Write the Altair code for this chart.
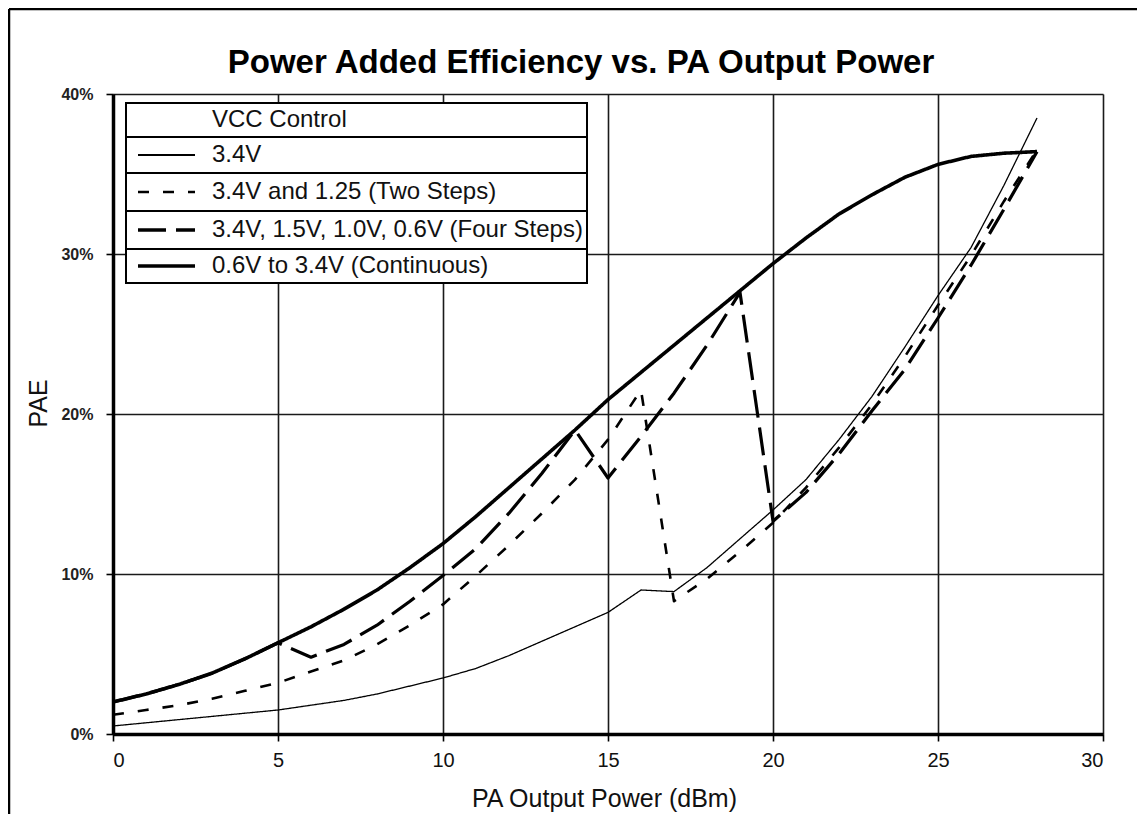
import altair as alt
import pandas as pd

# ---------------- data ----------------
power_dbm = list(range(0, 29))
pae_34v = [0.5, 0.7, 0.9, 1.1, 1.3, 1.5, 1.8, 2.1, 2.5, 3.0, 3.5, 4.1, 4.9, 5.8, 6.7,
           7.6, 9.0, 8.9, 10.4, 12.2, 14.0, 15.9, 18.4, 21.1, 24.2, 27.4, 30.4, 34.3, 38.5]
pae_two_steps = [1.2, 1.5, 1.8, 2.2, 2.7, 3.2, 3.9, 4.6, 5.6, 6.8, 8.1, 9.9, 11.8, 13.8, 15.9,
                 18.4, 21.5, 8.3, 9.7, 11.4, 13.2, 15.4, 17.9, 20.6, 23.6, 26.8, 29.9, 33.3, 36.5]
pae_four_steps = [2.0, 2.5, 3.1, 3.8, 4.7, 5.7, 4.8, 5.6, 6.8, 8.3, 9.9, 11.6, 13.8, 16.3, 19.0,
                  16.0, 18.6, 21.3, 24.3, 27.6, 13.3, 15.1, 17.5, 20.2, 22.8, 26.0, 29.3, 32.8, 36.4]
pae_continuous = [2.0, 2.5, 3.1, 3.8, 4.7, 5.7, 6.7, 7.8, 9.0, 10.4, 11.9, 13.6, 15.4, 17.2, 19.0,
                  20.9, 22.6, 24.3, 26.0, 27.7, 29.4, 31.0, 32.5, 33.7, 34.8, 35.6, 36.1, 36.3, 36.4]
series_names = ["3.4V", "3.4V and 1.25 (Two Steps)",
                "3.4V, 1.5V, 1.0V, 0.6V (Four Steps)", "0.6V to 3.4V (Continuous)"]
legend_title = "VCC Control"
chart_title = "Power Added Efficiency vs. PA Output Power"
x_ticks = [0, 5, 10, 15, 20, 25, 30]
y_ticks = [0, 10, 20, 30, 40]

rows = []
for name, vals in zip(series_names, [pae_34v, pae_two_steps, pae_four_steps, pae_continuous]):
    for i, (xv, yv) in enumerate(zip(power_dbm, vals)):
        rows.append({"series": name, "x": xv, "pae": yv, "order": i})
df = pd.DataFrame(rows)

# ---------------- styling ----------------
W, H = 990, 640
FONT = "Liberation Sans"
styles = {
    series_names[0]: dict(dash=[1, 0], width=1.3, lwidth=1.8),
    series_names[1]: dict(dash=[11, 14], width=2.6, lwidth=2.6),
    series_names[2]: dict(dash=[28, 10], width=3.2, lwidth=3.4),
    series_names[3]: dict(dash=[1, 0], width=3.6, lwidth=3.6),
}

x_axis = alt.Axis(values=x_ticks, title="PA Output Power (dBm)", grid=True,
                  gridColor="#1a1a1a", gridWidth=1.6, domainColor="black", domainWidth=3.5,
                  tickColor="black", tickSize=7, tickWidth=1.6,
                  labelFont=FONT, labelFontSize=20, labelColor="#111", labelPadding=9,
                  titleFont=FONT, titleFontSize=25, titleFontWeight="normal", titleColor="#111",
                  titleBaseline="alphabetic", titleY=72, titleX=491)
y_axis = alt.Axis(values=y_ticks, title="PAE", grid=True, labelExpr="datum.value + '%'",
                  gridColor="#1a1a1a", gridWidth=1.6, domainColor="black", domainWidth=3.5,
                  tickColor="black", tickSize=7, tickWidth=1.6,
                  labelFont=FONT, labelFontSize=16, labelFontWeight="bold", labelColor="#222",
                  labelPadding=13,
                  titleFont=FONT, titleFontSize=25, titleFontWeight="normal", titleColor="#111",
                  titleAngle=270, titleAlign="center", titleBaseline="middle",
                  titleX=-75, titleY=309)

layers = []
for k, name in enumerate(series_names):
    st = styles[name]
    enc = dict(x=alt.X("x:Q", scale=alt.Scale(domain=[0, 30], nice=False)),
               y=alt.Y("pae:Q", scale=alt.Scale(domain=[0, 40], nice=False)),
               order="order:Q")
    if k == 0:
        enc["x"] = alt.X("x:Q", scale=alt.Scale(domain=[0, 30], nice=False), axis=x_axis)
        enc["y"] = alt.Y("pae:Q", scale=alt.Scale(domain=[0, 40], nice=False), axis=y_axis)
    layers.append(
        alt.Chart(df).transform_filter(alt.datum.series == name)
        .mark_line(color="black", strokeWidth=st["width"], strokeDash=st["dash"],
                   strokeJoin="round", strokeCap="butt")
        .encode(**enc)
    )

# ---------------- legend (table-like box) ----------------
one = pd.DataFrame({"a": [0]})
LX0, LX1, LY0, LY1 = 13, 474, 9, 189
seps = [43, 79, 117, 155]
row_c = [26, 61, 98, 136, 172]
SYM0, SYM1, TX = 25, 82, 99

legend_layers = [
    alt.Chart(one).mark_rect(fill="white", stroke="black", strokeWidth=2).encode(
        x=alt.value(LX0), x2=alt.value(LX1), y=alt.value(LY0), y2=alt.value(LY1))
]
for s in seps:
    legend_layers.append(alt.Chart(one).mark_rule(color="black", strokeWidth=1.8).encode(
        x=alt.value(LX0), x2=alt.value(LX1), y=alt.value(s)))
labels = [legend_title] + series_names
for i, lab in enumerate(labels):
    legend_layers.append(alt.Chart(one).mark_text(
        align="left", baseline="middle", font=FONT, fontSize=24, color="#111").encode(
        x=alt.value(TX), y=alt.value(row_c[i]), text=alt.value(lab)))
for i, name in enumerate(series_names):
    st = styles[name]
    legend_layers.append(alt.Chart(one).mark_rule(
        color="black", strokeWidth=st["lwidth"], strokeDash=st["dash"], strokeCap="butt").encode(
        x=alt.value(SYM0), x2=alt.value(SYM1), y=alt.value(row_c[i + 1])))

# ---------------- chart title (as a text mark above the plot) ----------------
title_layer = alt.Chart(one).mark_text(
    align="center", baseline="alphabetic", font=FONT, fontSize=33, fontWeight="bold",
    color="black").encode(x=alt.value(468), y=alt.value(-21), text=alt.value(chart_title))

# ---------------- outer frame (left & top) ----------------
frame = [
    alt.Chart(one).mark_rule(color="black", strokeWidth=2.5).encode(
        x=alt.value(-104), y=alt.value(-85), y2=alt.value(H + 120)),
    alt.Chart(one).mark_rule(color="black", strokeWidth=2.5).encode(
        x=alt.value(-104), x2=alt.value(W + 60), y=alt.value(-85)),
]

chart = alt.layer(*layers, *legend_layers, title_layer, *frame).properties(
    width=W, height=H,
    autosize=alt.AutoSizeParams(type="none"),
    padding={"left": 105, "top": 86, "right": 34, "bottom": 80},
).configure_view(stroke="black", strokeWidth=3).configure(background="white")

chart.save("out.html", embed_options={"renderer": "svg", "actions": False})
